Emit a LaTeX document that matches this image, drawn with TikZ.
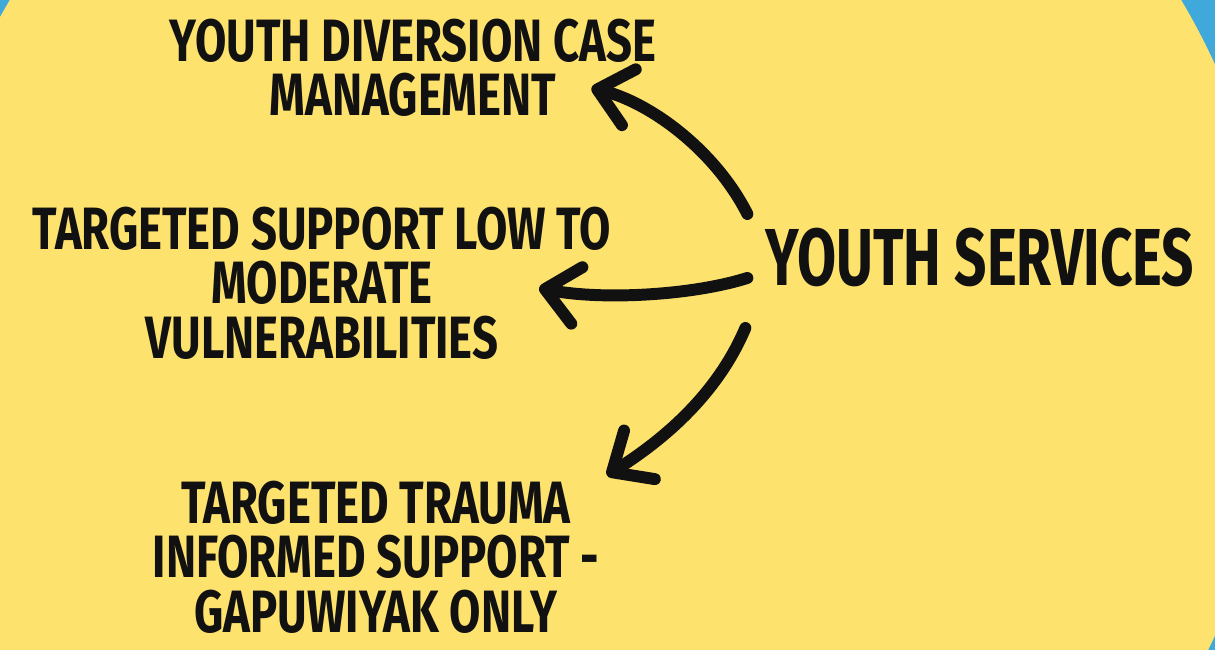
\documentclass[tikz,border=0pt]{standalone}
\usepackage{fontspec}
\usetikzlibrary{arrows.meta,calc}
\newfontfamily\hand{Fira Sans}[FakeStretch=0.76]
\newfontfamily\handhub{Fira Sans}[FakeStretch=0.7]
\definecolor{bgyellow}{HTML}{FDE26E}
\definecolor{bgblue}{HTML}{3FA9DC}
\definecolor{ink}{HTML}{111111}

\begin{document}
\begin{tikzpicture}[
    every node/.style={text=ink, align=center, inner sep=0pt},
    label/.style={font=\hand\bfseries\fontsize{34}{31}\selectfont},
    hub/.style={font=\handhub\bfseries\fontsize{46}{46}\selectfont},
    flow/.style={draw=ink, line width=6.8pt, line cap=round,
      -{Straight Barb[length=0.65cm, width=1.15cm, line cap=round, line join=round]}}]
         \useasboundingbox (0, 0) rectangle (24.3, 13);
         \clip (0, 0) rectangle (24.3, 13);
         \fill [bgblue] (0, 0) rectangle (24.3, 13);
         \fill [bgyellow] (11.91, 6.0) ellipse [x radius=13.63, y radius=13.68];
         % the hub and its three services
         \node [hub] (YS) at (19.6, 7.84) {YOUTH SERVICES};
         \node [label] (YD) at (8.26, 11.64) {YOUTH DIVERSION CASE\\MANAGEMENT};
         \node [label] (TS) at (6.44, 7.34) {TARGETED SUPPORT LOW TO\\MODERATE\\VULNERABILITIES};
         \node [label] (TT) at (7.52, 1.86) {TARGETED TRAUMA\\INFORMED SUPPORT -\\GAPUWIYAK ONLY};
         \draw [flow] ($(YS.west) + (-0.36, 0.88)$) .. controls (14.3, 10.0) and (13.0, 10.95) .. ($(YD.east) + (-1.3, -0.4)$);
         \draw [flow] ($(YS.west) + (-0.36, -0.4)$) .. controls (13.8, 7.08) and (12.0, 7.0) .. ($(TS.east) + (-1.45, -0.1)$);
         \draw [flow] ($(YS.west) + (-0.4, -1.4)$) .. controls (14.3, 5.0) and (13.1, 4.1) .. ($(TT.north east) + (0.15, 0.1)$);
\end{tikzpicture}
\end{document}
